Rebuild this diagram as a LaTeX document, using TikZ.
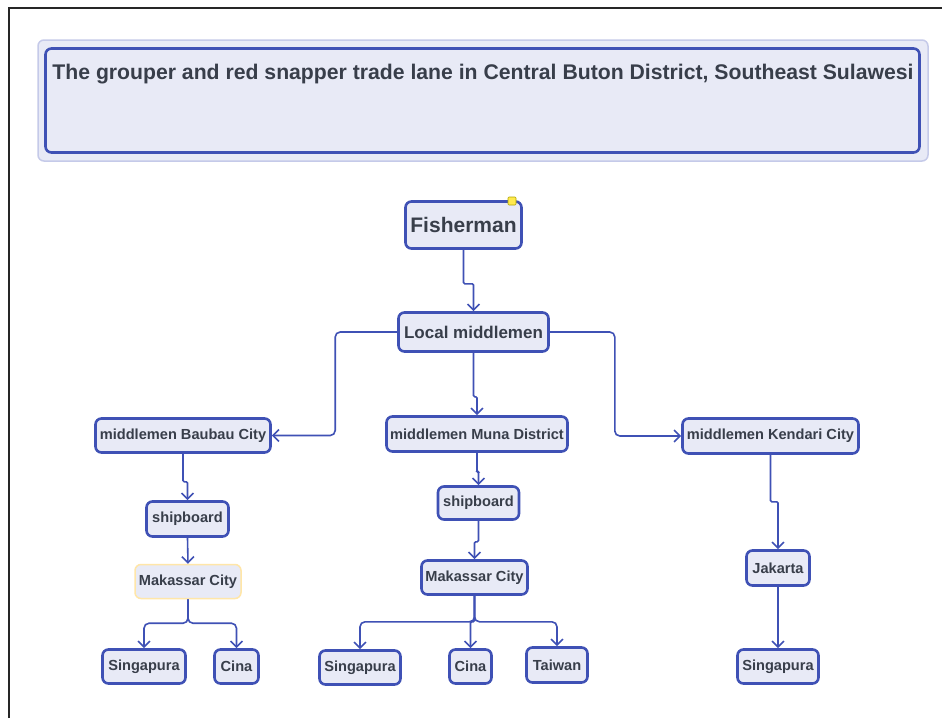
\documentclass[tikz,border=0pt]{standalone}
\usepackage{fontspec}
\setmainfont{Liberation Sans}
\usetikzlibrary{arrows.meta}
\definecolor{boxblue}{HTML}{3F51B5}
\definecolor{boxfill}{HTML}{E8EAF6}
\definecolor{txt}{HTML}{383E4A}
\definecolor{outerline}{HTML}{C5CAE9}
\definecolor{paleyellow}{HTML}{FFE6A8}
\definecolor{markyellow}{HTML}{FFE94D}
\tikzset{
 box/.style={draw=boxblue, line width=2.6pt, fill=boxfill, rounded corners=6pt, inner sep=0pt, text=txt, font=\bfseries\fontsize{14.6}{16}\selectfont},
 conn/.style={draw=boxblue, line width=1.6pt, rounded corners=5pt, -{Straight Barb[length=6pt,width=12pt,line width=1.6pt]}},
 jog/.style={conn, rounded corners=1.2pt},
}
\begin{document}
\begin{tikzpicture}[x=1pt,y=-1pt]
\useasboundingbox (0,0) rectangle (942,718);
\fill[white] (0,0) rectangle (942,718);
\draw[line width=1.5pt, black!85] (9,718) -- (9,8) -- (942,8);

% title
\node (titleouter) [draw=outerline, fill=boxfill, line width=1.5pt, rounded corners=6pt, minimum width=890pt, minimum height=121pt] at (483,100.5) {};
\node (titlebox) [box, minimum width=874pt, minimum height=104pt] at (482.5,100.5) {};
\node (titletext) [text=txt, font=\bfseries\fontsize{21.2}{24}\selectfont] at (483,74) {The grouper and red snapper trade lane in Central Buton District, Southeast Sulawesi};

% nodes
\node (fish) [box, minimum width=116pt, minimum height=47pt, font=\bfseries\fontsize{21}{24}\selectfont] at (463.5,225) {Fisherman};
\node (mark) [fill=markyellow, draw=olive!70!yellow, line width=0.6pt, minimum size=8pt, inner sep=0pt, rounded corners=1pt] at (512,201) {};
\node (local) [box, minimum width=150pt, minimum height=39pt, font=\bfseries\fontsize{17}{19}\selectfont] at (473.5,332) {Local middlemen};

\node (baubau) [box, minimum width=175pt, minimum height=34pt] at (183,435.5) {middlemen Baubau City};
\node (muna) [box, minimum width=181pt, minimum height=35pt] at (477,434) {middlemen Muna District};
\node (kendari) [box, minimum width=176pt, minimum height=35pt] at (770.5,436) {middlemen Kendari City};

\node (shipL) [box, minimum width=82pt, minimum height=35pt] at (187.5,519) {shipboard};
\node (makL) [box, draw=paleyellow, line width=1.5pt, minimum width=106pt, minimum height=34pt] at (188,581.5) {Makassar City};
\node (singL) [box, minimum width=83pt, minimum height=34pt] at (144,666.5) {Singapura};
\node (cinaL) [box, minimum width=44pt, minimum height=34pt] at (236.5,666.5) {Cina};

\node (shipM) [box, minimum width=81pt, minimum height=33pt] at (478.5,503) {shipboard};
\node (makM) [box, minimum width=106pt, minimum height=34pt] at (474.5,577.5) {Makassar City};
\node (singM) [box, minimum width=81pt, minimum height=34pt] at (360,667.5) {Singapura};
\node (cinaM) [box, minimum width=42pt, minimum height=34pt] at (470.5,666.5) {Cina};
\node (taiwan) [box, minimum width=61pt, minimum height=35pt] at (557,665) {Taiwan};

\node (jak) [box, minimum width=63pt, minimum height=35pt] at (778,568) {Jakarta};
\node (singR) [box, minimum width=81pt, minimum height=34pt] at (778,666.5) {Singapura};

% connectors
\draw[jog] (fish.south) -- ++(0,34) -| (local.north);
\draw[conn] (local.west) -- ++(-62,0) |- (baubau.east);
\draw[jog] (local.south) -- ++(0,44) -| (muna.north);
\draw[conn] (local.east) -- ++(65,0) |- (kendari.west);

\draw[jog] (baubau.south) -- ++(0,28) -| (shipL.north);
\draw[conn] (shipL.south) -- (makL.north);
\draw[conn] (makL.south) -- ++(0,24) -| (singL.north);
\draw[conn] (makL.south) -- ++(0,24) -| (cinaL.north);

\draw[jog] (muna.south) -- ++(0,19) -| (shipM.north);
\draw[jog] (shipM.south) -- ++(0,21) -| (makM.north);
\draw[conn] (makM.south) -- ++(0,26) -| (singM.north);
\draw[jog] (makM.south) -- ++(0,26) -| (cinaM.north);
\draw[conn] (makM.south) -- ++(0,26) -| (taiwan.north);

\draw[jog] (kendari.south) -- ++(0,47) -| (jak.north);
\draw[conn] (jak.south) -- (singR.north);
\end{tikzpicture}
\end{document}
